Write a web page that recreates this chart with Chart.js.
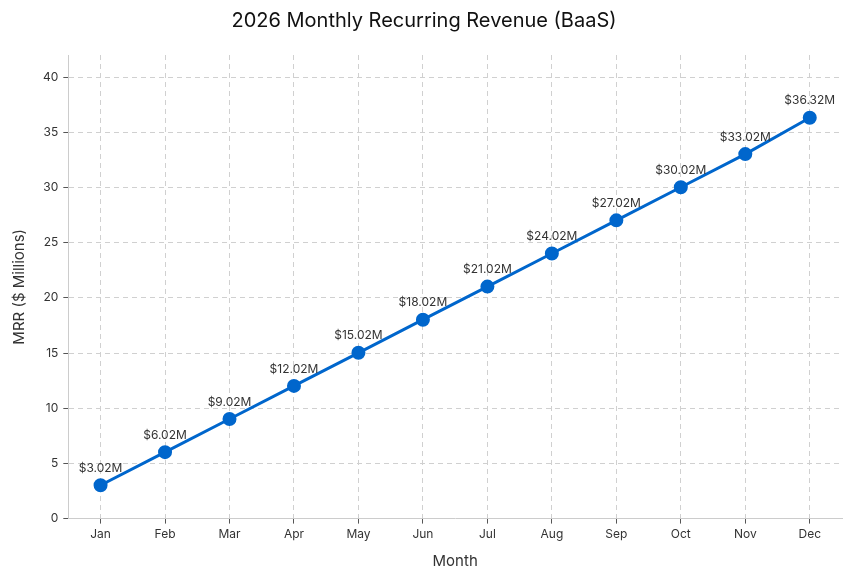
<!DOCTYPE html>
<html lang="en">
<head>
    <meta charset="UTF-8">
    <title>2026 Monthly Recurring Revenue (BaaS)</title>
    <script src="https://cdn.jsdelivr.net/npm/chart.js"></script>
    <style>
        html, body { margin: 0; padding: 0; background: #fff; }
        .chart-container { position: relative; width: 851px; height: 580px; }
    </style>
</head>
<body>
    <div class="chart-container">
        <canvas id="mrrChart"></canvas>
    </div>

    <script>
        const months = ['Jan', 'Feb', 'Mar', 'Apr', 'May', 'Jun', 'Jul', 'Aug', 'Sep', 'Oct', 'Nov', 'Dec'];
        const mrrValues = [3.02, 6.02, 9.02, 12.02, 15.02, 18.02, 21.02, 24.02, 27.02, 30.02, 33.02, 36.32];
        const yTicks = [0, 5, 10, 15, 20, 25, 30, 35, 40];

        const FONT = 'Inter, "Noto Sans", sans-serif';
        const LINE_COLOR = '#0066cc';

        // Draw "$X.XXM" labels above each point
        const valueLabels = {
            id: 'valueLabels',
            afterDatasetsDraw(chart) {
                const ctx = chart.ctx;
                const meta = chart.getDatasetMeta(0);
                ctx.save();
                ctx.font = '12px ' + FONT;
                ctx.fillStyle = '#333';
                ctx.textAlign = 'center';
                ctx.textBaseline = 'bottom';
                meta.data.forEach((pt, i) => {
                    ctx.fillText('$' + mrrValues[i].toFixed(2) + 'M', pt.x, pt.y - 11);
                });
                ctx.restore();
            }
        };

        new Chart(document.getElementById('mrrChart').getContext('2d'), {
            type: 'line',
            data: {
                labels: months,
                datasets: [{
                    label: 'MRR',
                    data: mrrValues,
                    borderColor: LINE_COLOR,
                    backgroundColor: LINE_COLOR,
                    borderWidth: 3,
                    pointRadius: 5.5,
                    pointHoverRadius: 5.5,
                    tension: 0,
                    fill: false
                }]
            },
            options: {
                responsive: true,
                maintainAspectRatio: false,
                animation: false,
                layout: { padding: { top: 9, right: 9, bottom: 6, left: 6 } },
                plugins: {
                    legend: { display: false },
                    tooltip: { enabled: false },
                    title: {
                        display: true,
                        text: '2026 Monthly Recurring Revenue (BaaS)',
                        color: '#111',
                        font: { family: FONT, size: 20, weight: 'normal' },
                        padding: { top: 0, bottom: 22 }
                    }
                },
                scales: {
                    x: {
                        offset: true,
                        border: { display: true, color: '#cccccc', width: 1, dash: [5, 4] },
                        grid: {
                            color: '#d0d0d0',
                            tickColor: '#555',
                            tickLength: 5
                        },
                        ticks: { color: '#333', font: { family: FONT, size: 12 }, padding: 4 },
                        title: {
                            display: true,
                            text: 'Month',
                            color: '#333',
                            font: { family: FONT, size: 15 },
                            padding: { top: 6 }
                        }
                    },
                    y: {
                        min: 0,
                        max: 42,
                        afterBuildTicks: axis => { axis.ticks = yTicks.map(v => ({ value: v })); },
                        border: { display: true, color: '#cccccc', width: 1, dash: [5, 4] },
                        grid: {
                            color: '#d0d0d0',
                            tickColor: '#555',
                            tickLength: 5
                        },
                        ticks: { color: '#333', font: { family: FONT, size: 12 }, padding: 5 },
                        title: {
                            display: true,
                            text: 'MRR ($ Millions)',
                            color: '#333',
                            font: { family: FONT, size: 15 },
                            padding: { bottom: 10 }
                        }
                    }
                }
            },
            plugins: [valueLabels]
        });
    </script>
</body>
</html>
